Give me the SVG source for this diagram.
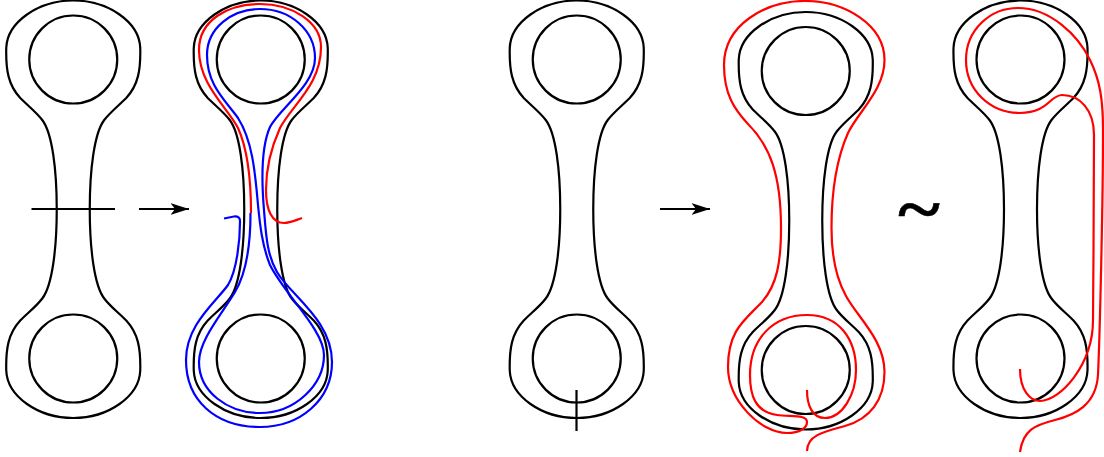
<svg xmlns="http://www.w3.org/2000/svg" xmlns:xlink="http://www.w3.org/1999/xlink" width="1104" height="457" viewBox="0 0 1104 457">
<style>
.k{fill:none;stroke:#000;stroke-width:2.2}
.r{fill:none;stroke:#f00;stroke-width:2.2}
.b{fill:none;stroke:#00f;stroke-width:2.2}
.t{font-family:"Liberation Serif",serif;font-weight:bold;font-size:80px;fill:#000;stroke:#000;stroke-width:.6;text-anchor:middle}
</style>
<defs>
<g id="handle">
<path class="k" d="M0,.5 C35,.5 66,22 67,48 C67.5,70 65,85 53,98 C45,106 37,112 31,120 C21,133 16.5,170 16.5,209.25 C16.5,248.5 21,285.5 31,298.5 C37,306.5 45,312.5 53,320.5 C65,333.5 67.5,348.5 67,370.5 C66,396.5 35,418 0,418 C-35,418 -66,396.5 -67,370.5 C-67.5,348.5 -65,333.5 -53,320.5 C-45,312.5 -37,306.5 -31,298.5 C-21,285.5 -16.5,248.5 -16.5,209.25 C-16.5,170 -21,133 -31,120 C-37,112 -45,106 -53,98 C-65,85 -67.5,70 -67,48 C-66,22 -35,.5 0,.5 Z"/>
<circle class="k" cx="0" cy="59.5" r="44"/>
<circle class="k" cx="0" cy="358.5" r="44"/>
</g>
<marker id="ah" markerUnits="userSpaceOnUse" markerWidth="20" markerHeight="14" refX="18.5" refY="7" orient="auto">
<path d="M0,1.2 L18.5,7 L0,12.8 L4.5,7 Z" fill="#000"/>
</marker>
</defs>
<g id="surface-1"><use xlink:href="#handle" href="#handle" transform="translate(73.25,0)"/></g>
<g id="surface-2"><use xlink:href="#handle" href="#handle" transform="translate(260.75,0)"/></g>
<g id="surface-3"><use xlink:href="#handle" href="#handle" transform="translate(576.75,0)"/></g>
<g id="surface-4"><use xlink:href="#handle" href="#handle" transform="translate(805.75,11.5)"/></g>
<g id="surface-5"><use xlink:href="#handle" href="#handle" transform="translate(1020.5,0)"/></g>
<g id="connectors">
<path class="k" d="M31.5,209 H115"/>
<path class="k" d="M576.5,390 V431"/>
<path class="k" marker-end="url(#ah)" d="M139,209 H189"/>
<path class="k" marker-end="url(#ah)" d="M660,209 H710"/>
</g>
<g id="curves">
<path class="r" d="M251,213 C251,180 248,150 238,128 C228,108 199,85 199,50 C199,20 228,4 260,4 C292,4 321,22 321,47 C321,85 292,105 280,128 C270,150 266,170 266,190 C266,210 272,223 284,223 C290,223 296,220 302,218"/>
<path class="b" d="M250.5,213 C250.5,245 247,272 235,292 C222,314 199,340 199,362 C199,392 228,413 260,413 C295,413 324,385 324,355 C324,330 285,295 270,265 C262,245 260,225 258,205 C255,170 252,140 238,118 C225,100 207,85 207,55 C207,28 232,9 260,9 C290,9 315,30 315,58 C315,85 280,108 270,127 C262,145 261,175 264,210 C266,235 267,255 277,272 C290,295 332,320 332,362 C332,400 300,427 260,427 C215,427 186,400 186,360 C186,325 215,303 228,285 C237,270 240,240 240,222 Q240.5,216 234,216.5 L224,218.5"/>
<path class="r" d="M807,451 C807,436 822,432 845,426 C870,419 884.5,400 884.5,372 C884.5,340 858,318 846,296 C836,278 831.5,255 831.5,228 C831.5,190 836,160 848,133 C858,112 884.5,90 884.5,60 C884.5,25 845,1 805,1 C765,1 724,25 724,65 C724,95 735,110 748,124 C770,146 781,175 781,228 C781,262 777,285 762,302 C745,320 728,330 728,367 C728,400 760,433 787,433 C800,433 807,428 807,422 C807,414 790,417 777,415 C755,412 750,395 750,375 C750,340 772,315 807,315 C840,315 856,340 856,370 C856,395 842,418 825,418 C812,418 807,405 807,390"/>
<path class="r" d="M1020,369 C1020,390 1030,401 1040,401 C1060,401 1093,365 1093,320 C1093.5,260 1094,180 1094,135 C1094,110 1080,95 1062,95 C1050,95 1048,113 1020,113 C990,113 966,90 966,60 C966,30 990,8 1018,8 C1050,8 1078,35 1090,60 C1100,80 1103,100 1103,130 C1103,200 1100,330 1098,375 C1096,405 1075,415 1055,420 C1035,425 1023,430 1020,452"/>
</g>
<text class="t" transform="translate(919,232) scale(1,.85)">~</text>
</svg>
